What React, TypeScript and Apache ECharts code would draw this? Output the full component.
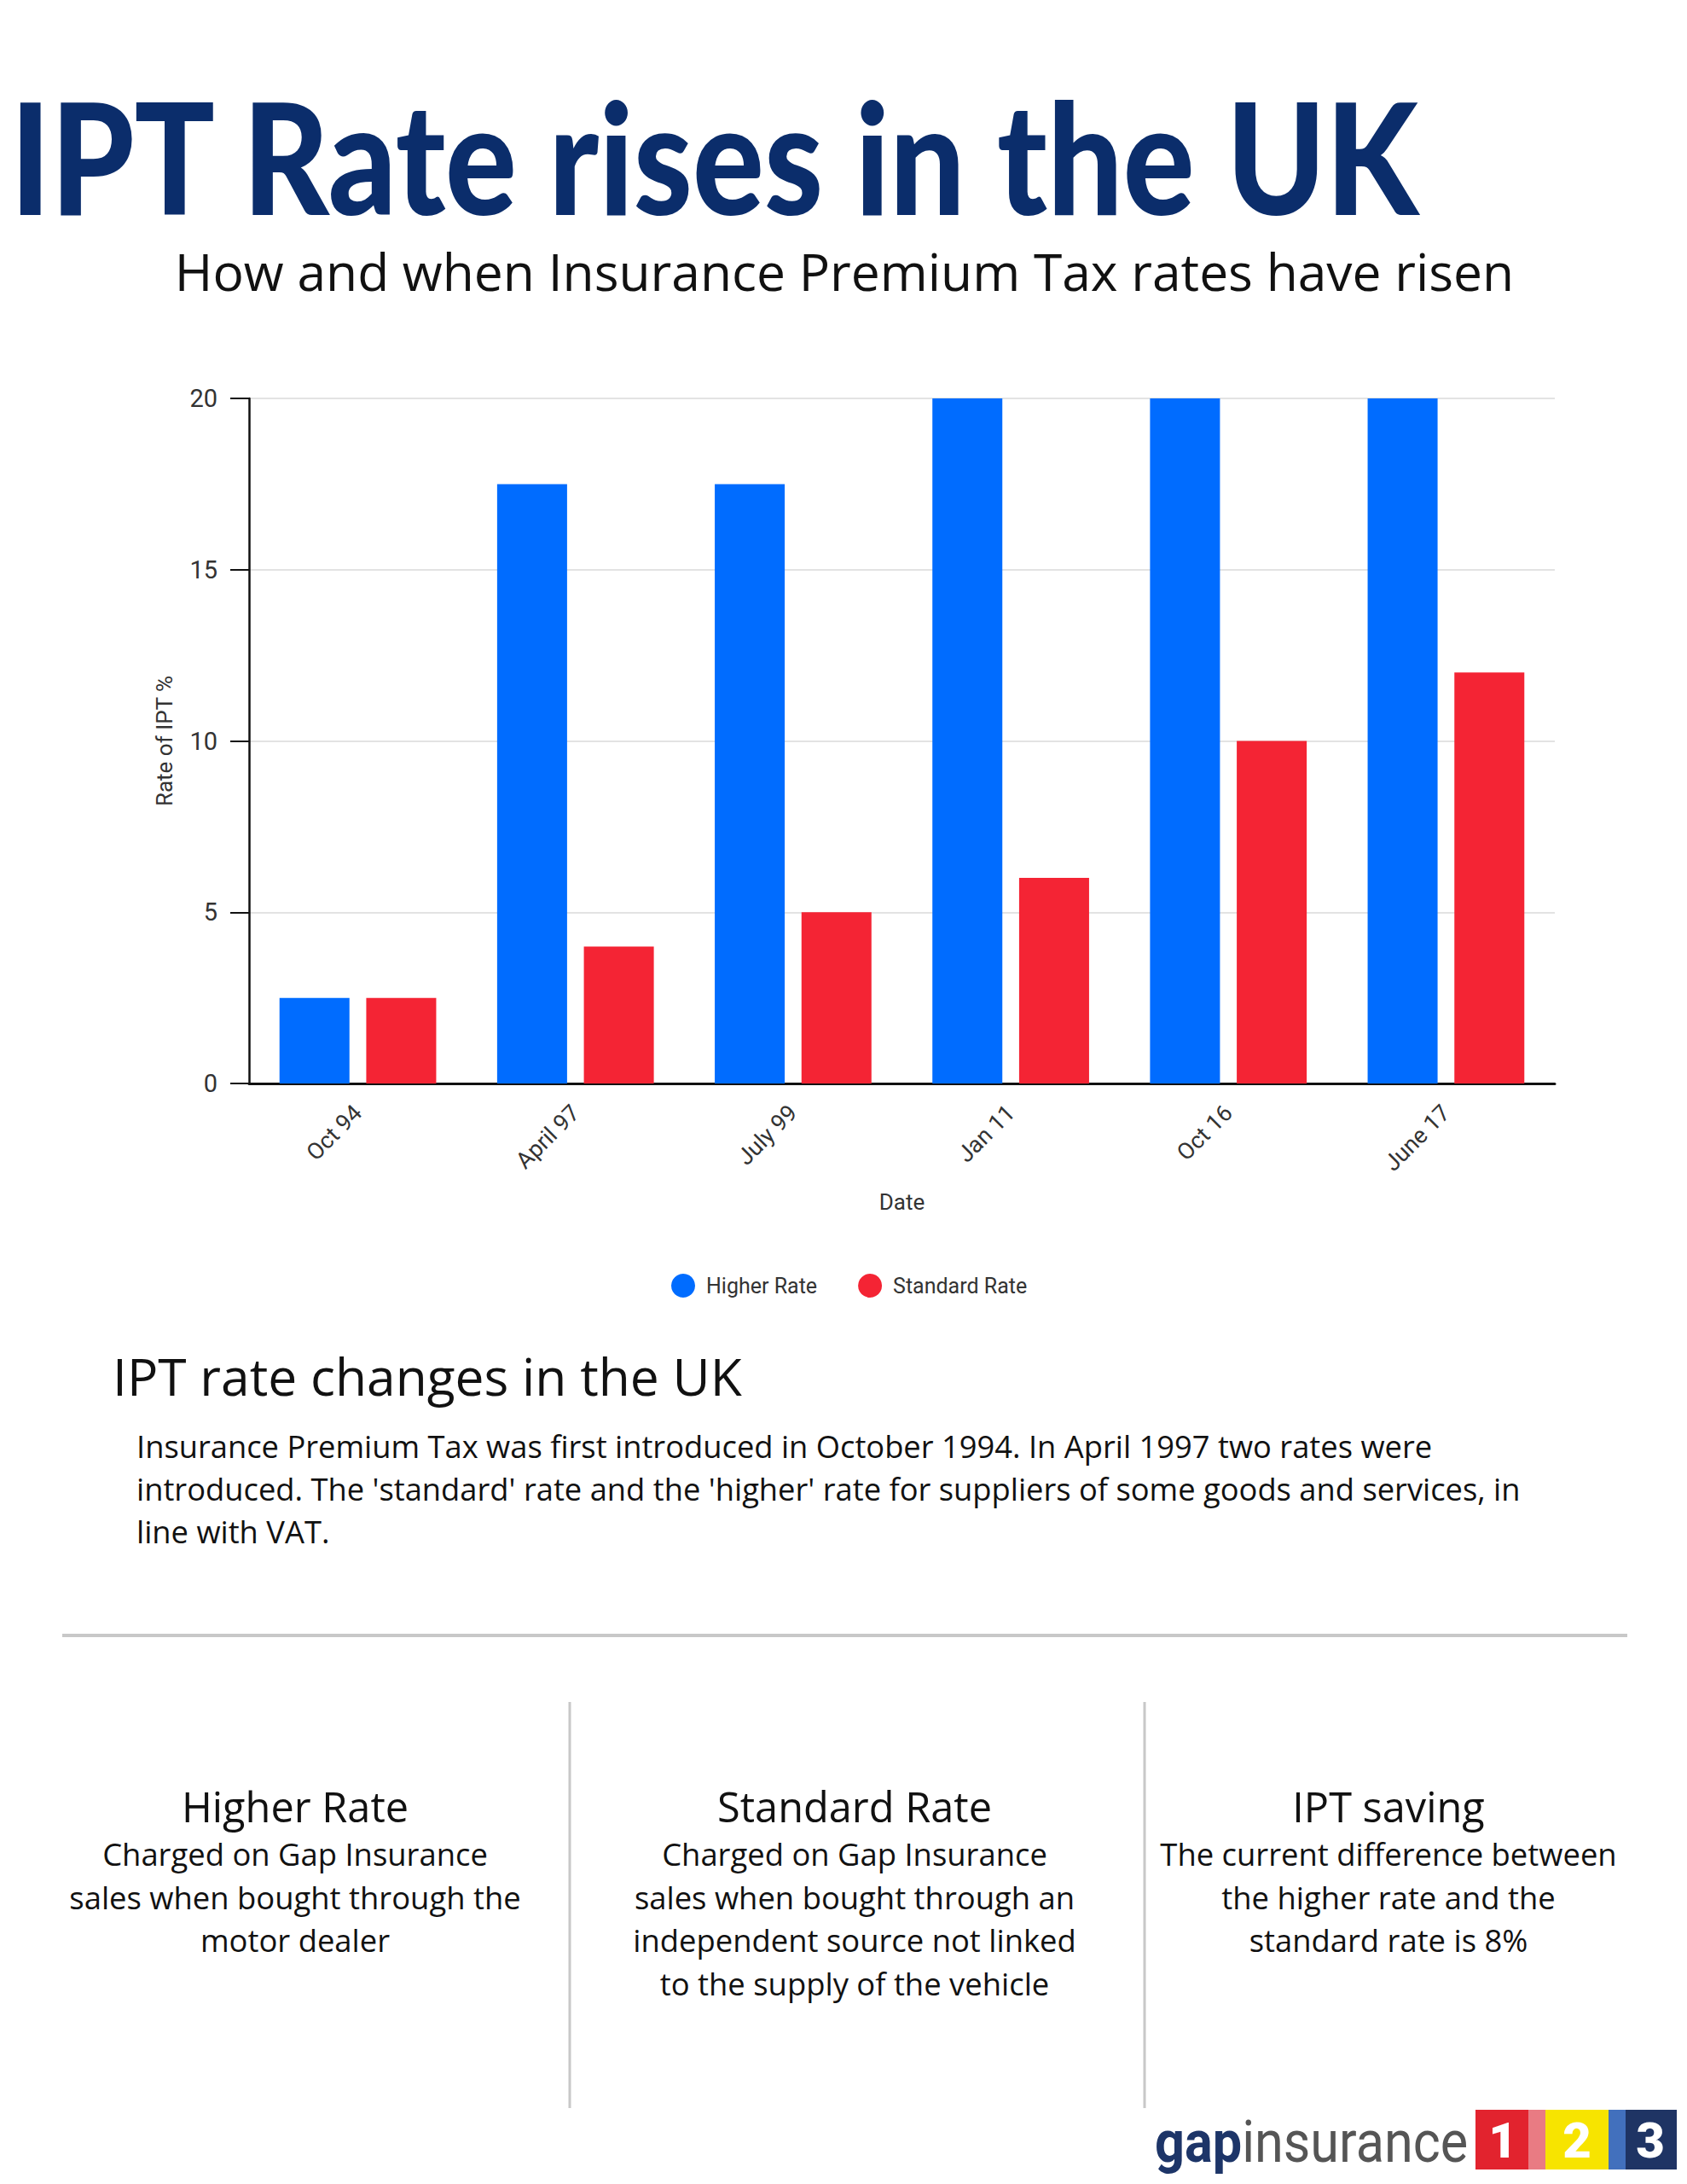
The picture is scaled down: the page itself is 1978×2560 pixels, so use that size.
import React, { useEffect, useRef } from "react";
import * as echarts from "echarts";

const categories = ["Oct 94", "April 97", "July 99", "Jan 11", "Oct 16", "June 17"];
const higherRate = [2.5, 17.5, 17.5, 20, 20, 20];
const standardRate = [2.5, 4, 5, 6, 10, 12];
const seriesNames = ["Higher Rate", "Standard Rate"];
const seriesColors = ["#006cff", "#f42434"];

const titleText = "IPT Rate rises in the UK";
const subtitleText = "How and when Insurance Premium Tax rates have risen";
const sectionHeading = "IPT rate changes in the UK";
const paragraphLines = [
  "Insurance Premium Tax was first introduced in October 1994. In April 1997 two rates were",
  "introduced. The 'standard' rate and the 'higher' rate for suppliers of some goods and services, in",
  "line with VAT.",
];
const columnHeadings = ["Higher Rate", "Standard Rate", "IPT saving"];
const columnBodies = [
  ["Charged on Gap Insurance", "sales when bought through the", "motor dealer"],
  ["Charged on Gap Insurance", "sales when bought through an", "independent source not linked", "to the supply of the vehicle"],
  ["The current difference between", "the higher rate and the", "standard rate is 8%"],
];

export default function App() {
  const ref = useRef<HTMLDivElement>(null);
  useEffect(() => {
    if (!ref.current) return;
    const chart = echarts.init(ref.current, undefined, { renderer: "svg" });
    const OS = "'Open Sans', sans-serif";
    const RB = "Roboto, sans-serif";
    const graphics: any[] = [];

    graphics.push({
      type: "text",
      x: 12,
      y: 181,
      scaleX: 0.86,
      style: {
        text: titleText,
        font: `900 182px Lato, sans-serif`,
        fill: "#0b2d6b",
        textAlign: "left",
        textVerticalAlign: "middle",
      },
    });
    graphics.push({
      type: "text",
      x: 990,
      y: 317,
      style: {
        text: subtitleText,
        font: `400 60.5px ${OS}`,
        fill: "#111",
        textAlign: "center",
        textVerticalAlign: "middle",
      },
    });
    graphics.push({
      type: "text",
      x: 132,
      y: 1612,
      style: {
        text: sectionHeading,
        font: `400 60.5px ${OS}`,
        fill: "#111",
        textAlign: "left",
        textVerticalAlign: "middle",
      },
    });
    paragraphLines.forEach((line, i) => {
      graphics.push({
        type: "text",
        x: 160,
        y: 1695 + i * 50,
        style: {
          text: line,
          font: `400 36.3px ${OS}`,
          fill: "#111",
          textAlign: "left",
          textVerticalAlign: "middle",
        },
      });
    });
    graphics.push({
      type: "rect",
      shape: { x: 73, y: 1915, width: 1835, height: 4 },
      style: { fill: "#c8c8c8" },
    });
    [668, 1342].forEach((x) => {
      graphics.push({
        type: "rect",
        shape: { x: x - 1.5, y: 1995, width: 3, height: 476 },
        style: { fill: "#c8c8c8" },
      });
    });
    const colCenters = [346, 1002, 1628];
    columnHeadings.forEach((h, c) => {
      graphics.push({
        type: "text",
        x: colCenters[c],
        y: 2117,
        style: {
          text: h,
          font: `400 48.7px ${OS}`,
          fill: "#111",
          textAlign: "center",
          textVerticalAlign: "middle",
        },
      });
      columnBodies[c].forEach((line, i) => {
        graphics.push({
          type: "text",
          x: colCenters[c],
          y: 2173 + i * 50.5,
          style: {
            text: line,
            font: `400 36.4px ${OS}`,
            fill: "#111",
            textAlign: "center",
            textVerticalAlign: "middle",
          },
        });
      });
    });

    // logo
    graphics.push({
      type: "text",
      x: 1354,
      y: 2511,
      scaleX: 0.9,
      style: {
        text: "{a|gap}{b|insurance}",
        textAlign: "left",
        textVerticalAlign: "middle",
        rich: {
          a: { font: `700 68px ${RB}`, fill: "#1d3568" },
          b: { font: `400 68px ${RB}`, fill: "#555555" },
        },
      },
    });
    graphics.push({ type: "rect", shape: { x: 1730, y: 2473, width: 62, height: 70 }, style: { fill: "#e2232e" } });
    graphics.push({ type: "rect", shape: { x: 1792, y: 2473, width: 20, height: 70 }, style: { fill: "#e97b83" } });
    graphics.push({ type: "rect", shape: { x: 1812, y: 2473, width: 74, height: 70 }, style: { fill: "#f7e400" } });
    graphics.push({ type: "rect", shape: { x: 1886, y: 2473, width: 20, height: 70 }, style: { fill: "#4270bd" } });
    graphics.push({ type: "rect", shape: { x: 1906, y: 2473, width: 60, height: 70 }, style: { fill: "#1f3464" } });
    [["1", 1762], ["2", 1849], ["3", 1935]].forEach(([d, x]) => {
      graphics.push({
        type: "text",
        x: x as number,
        y: 2509,
        style: {
          text: d as string,
          font: `900 58px ${RB}`,
          fill: "#ffffff",
          textAlign: "center",
          textVerticalAlign: "middle",
        },
      });
    });

    const option: any = {
      animation: false,
      backgroundColor: "#ffffff",
      grid: { left: 292, right: 155, top: 467, bottom: 1290, containLabel: false },
      legend: {
        data: seriesNames,
        left: 782,
        top: 1488,
        icon: "circle",
        itemWidth: 28,
        itemHeight: 28,
        itemGap: 48,
        textStyle: { fontFamily: RB, fontSize: 25, color: "#333", padding: [0, 0, 0, 8] },
      },
      xAxis: {
        type: "category",
        data: categories,
        name: "Date",
        nameLocation: "middle",
        nameGap: 126,
        nameTextStyle: { fontFamily: RB, fontSize: 26, color: "#333" },
        axisLine: { lineStyle: { color: "#111", width: 3 } },
        axisTick: { alignWithLabel: true, length: 24, lineStyle: { color: "#111", width: 2 } },
        axisLabel: { rotate: 45, margin: 30, fontFamily: RB, fontSize: 27, color: "#333" },
      },
      yAxis: {
        type: "value",
        min: 0,
        max: 20,
        interval: 5,
        name: "Rate of IPT %",
        nameLocation: "middle",
        nameGap: 86,
        nameTextStyle: { fontFamily: RB, fontSize: 26, color: "#333" },
        axisLine: { show: true, lineStyle: { color: "#111", width: 2.5 } },
        axisTick: { show: true, length: 22, lineStyle: { color: "#111", width: 2 } },
        axisLabel: { margin: 37, fontFamily: RB, fontSize: 29, color: "#333" },
        splitLine: { lineStyle: { color: "#e3e3e3", width: 2 } },
      },
      series: [
        {
          name: seriesNames[0],
          type: "bar",
          data: higherRate,
          itemStyle: { color: seriesColors[0] },
          barGap: "24%",
          barCategoryGap: "28%",
        },
        {
          name: seriesNames[1],
          type: "bar",
          data: standardRate,
          itemStyle: { color: seriesColors[1] },
          barGap: "24%",
          barCategoryGap: "28%",
        },
      ],
      graphic: graphics,
    };
    chart.setOption(option);
    return () => chart.dispose();
  }, []);
  return (
    <div
      ref={ref}
      style={{ position: "absolute", left: 0, top: 0, width: 1978, height: 2560, background: "#fff" }}
    />
  );
}
